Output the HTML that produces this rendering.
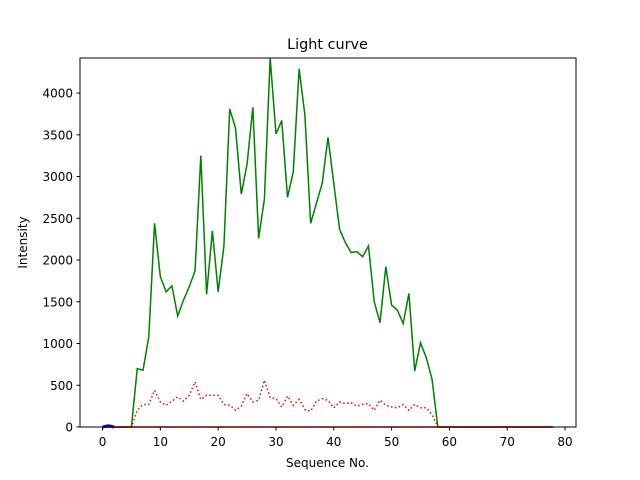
<!DOCTYPE html>
<html><head><meta charset="utf-8"><style>
body{margin:0;background:#fff;}
svg{display:block;font-family:"DejaVu Sans","Liberation Sans",sans-serif;}
</style></head><body>
<svg id="chart" width="640" height="480">
<rect width="640" height="480" fill="#fff"/>
<text x="327.5" y="49" font-size="14.4" text-anchor="middle">Light curve</text>
<g id="plot"></g>
<rect x="80" y="58" width="496" height="369" fill="none" stroke="#000" stroke-width="1"/>
<g id="xt"></g>
<g id="yt"></g>
<text x="327.5" y="467" font-size="12" text-anchor="middle">Sequence No.</text>
<text transform="translate(27,242.5) rotate(-90)" font-size="12" text-anchor="middle">Intensity</text>
</svg>
<script>
const green = [0,0,0,0,0,0,700,680,1080,2440,1800,1620,1690,1330,1520,1680,1870,3250,1590,2350,1620,2170,3810,3580,2790,3150,3830,2260,2730,4420,3510,3670,2750,3060,4290,3740,2440,2680,2920,3470,2920,2370,2210,2090,2100,2040,2170,1500,1250,1920,1460,1400,1240,1600,670,1010,830,570,0,0,0,0,0,0,0,0,0,0,0,0,0,0,0,0,0,0,0,0,0];
const redDotted = [0,0,0,0,0,0,200,270,270,440,300,260,310,360,310,380,540,330,380,380,380,270,260,200,250,400,300,320,560,350,340,240,370,260,330,210,190,310,340,320,230,300,280,290,250,270,280,200,320,260,240,230,270,200,270,230,230,150,0,0,0,0,0,0,0,0,0,0,0,0,0,0,0,0,0,0,0,0,0];
const redSolid = new Array(79).fill(0);
const blue = [0,15,0];
const xTicks = [0,10,20,30,40,50,60,70,80];
const yTicks = [0,500,1000,1500,2000,2500,3000,3500,4000];

const X0=80,X1=576,Y0=427,Y1=58;
const xMin=-3.9,xMax=81.9,yMin=0,yMax=4420;
const sx=v=>X0+(v-xMin)/(xMax-xMin)*(X1-X0);
const sy=v=>Y0-(v-yMin)/(yMax-yMin)*(Y0-Y1);
const NS="http://www.w3.org/2000/svg";
const plot=document.getElementById('plot');
function line(arr,color,name,dash,w){
  const p=document.createElementNS(NS,'polyline');
  p.setAttribute('points',arr.map((v,i)=>sx(i).toFixed(2)+','+sy(v).toFixed(2)).join(' '));
  p.setAttribute('fill','none');p.setAttribute('stroke',color);p.setAttribute('stroke-width',w||1.5);
  if(dash)p.setAttribute('stroke-dasharray',dash);
  
  
  plot.appendChild(p);
}
line(green,'#008000','green-series');
line(redDotted,'#ff0000','red-dotted-series','1.5,2.5');
line(blue,'#0000ff','blue-series',null,3);
line(redSolid,'#ff0000','red-baseline-series');
const xt=document.getElementById('xt');
xTicks.forEach(t=>{
  const l=document.createElementNS(NS,'line');
  l.setAttribute('x1',sx(t));l.setAttribute('x2',sx(t));l.setAttribute('y1',Y0);l.setAttribute('y2',Y0+3.5);l.setAttribute('stroke','#000');
  
  
  xt.appendChild(l);
  const s=document.createElementNS(NS,'text');
  s.setAttribute('x',sx(t));s.setAttribute('y',446);s.setAttribute('font-size','12');s.setAttribute('text-anchor','middle');
  s.textContent=t;
  
  
  xt.appendChild(s);
});
const yt=document.getElementById('yt');
yTicks.forEach(t=>{
  const l=document.createElementNS(NS,'line');
  l.setAttribute('x1',X0-3.5);l.setAttribute('x2',X0);l.setAttribute('y1',sy(t));l.setAttribute('y2',sy(t));l.setAttribute('stroke','#000');
  
  
  yt.appendChild(l);
  const s=document.createElementNS(NS,'text');
  s.setAttribute('x',X0-7);s.setAttribute('y',sy(t)+4.5);s.setAttribute('font-size','12');s.setAttribute('text-anchor','end');
  s.textContent=t;
  
  
  yt.appendChild(s);
});
</script>
</body></html>
